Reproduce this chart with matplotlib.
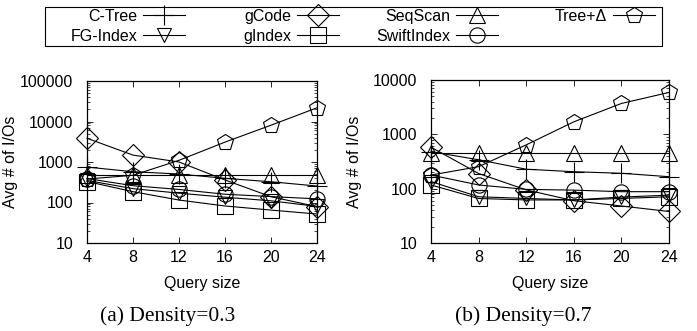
import numpy as np
import matplotlib
matplotlib.use('Agg')
import matplotlib.pyplot as plt
import matplotlib as mpl
from matplotlib.ticker import LogLocator, NullFormatter, FixedLocator
from matplotlib.patches import Rectangle

mpl.rcParams['font.family'] = ['Liberation Sans', 'DejaVu Sans']
mpl.rcParams['font.size'] = 11.5
mpl.rcParams['lines.linewidth'] = 0.8

query_sizes = [4, 8, 12, 16, 20, 24]
names = ['C-Tree', 'FG-Index', 'gCode', 'gIndex', 'SeqScan', 'SwiftIndex', 'Tree+\u0394']

# Density = 0.3
d03_ctree = [750, 575, 505, 395, 325, 255]
d03_fgindex = [350, 220, 170, 135, 110, 80]
d03_gcode = [3850, 1480, 1000, 360, 139, 79]
d03_gindex = [330, 185, 115, 82, 65, 52]
d03_seqscan = [470, 470, 470, 470, 470, 470]
d03_swift = [390, 260, 210, 160, 140, 123]
d03_tree = [380, 470, 1100, 3100, 8100, 21800]

# Density = 0.7
d07_ctree = [480, 340, 228, 205, 192, 166]
d07_fgindex = [135, 71, 66, 62, 70, 76]
d07_gcode = [580, 190, 95, 60, 48, 38]
d07_gindex = [117, 66, 62, 62, 66, 71]
d07_seqscan = [450, 450, 450, 450, 450, 450]
d07_swift = [178, 117, 97, 94, 88, 88]
d07_tree = [178, 254, 640, 1700, 3700, 5900]

markers = ['+', 'v', 'D', 's', '^', 'o', 'p']
msizes = [14, 10, 11, 11, 11, 11, 12]

W, H = 697, 331
fig = plt.figure(figsize=(6.97, 3.31), dpi=100)
ax1 = fig.add_axes([87 / W, 88 / H, 230 / W, 162 / H])
ax2 = fig.add_axes([431 / W, 88 / H, 238 / W, 163 / H])

panels = [
    (ax1, [d03_ctree, d03_fgindex, d03_gcode, d03_gindex, d03_seqscan, d03_swift, d03_tree], 100000),
    (ax2, [d07_ctree, d07_fgindex, d07_gcode, d07_gindex, d07_seqscan, d07_swift, d07_tree], 10000),
]

handles = []
for ax, series, ytop in panels:
    for k, vals in enumerate(series):
        ln, = ax.plot(query_sizes, vals, color='black', marker=markers[k], markersize=msizes[k],
                      mfc='none', mec='black', mew=0.8, linewidth=0.8, clip_on=False, label=names[k])
        if ax is ax1:
            handles.append(ln)
    ax.set_yscale('log')
    ax.set_xlim(4, 24)
    ax.set_ylim(10, ytop)
    ax.xaxis.set_major_locator(FixedLocator(query_sizes))
    ax.yaxis.set_major_locator(LogLocator(base=10, numticks=10))
    ax.yaxis.set_minor_locator(LogLocator(base=10, subs=np.arange(2, 10), numticks=10))
    ax.yaxis.set_minor_formatter(NullFormatter())
    ax.yaxis.set_major_formatter(mpl.ticker.FuncFormatter(lambda v, p: '%d' % round(v)))
    ax.tick_params(which='both', direction='in', top=True, right=True, labelsize=11.5)
    ax.tick_params(which='major', length=4, width=0.6)
    ax.tick_params(which='minor', length=2, width=0.5)
    ax.tick_params(axis='y', which='major', pad=10)
    ax.tick_params(axis='x', which='major', pad=5)
    ax.set_xlabel('Query size', fontsize=11.5, labelpad=8)
    ax.set_ylabel('Avg # of I/Os', fontsize=11.5)
    for sp in ax.spines.values():
        sp.set_linewidth(0.9)

ax1.yaxis.set_label_coords(-0.30, 0.5)
ax2.yaxis.set_label_coords(-0.29, 0.5)

# legend: gnuplot-like box, 4 columns, label then sample
fig.patches.append(Rectangle((45 / W, 1 - 46 / H), 617 / W, 39 / H, transform=fig.transFigure,
                             fill=False, edgecolor='black', linewidth=0.8))
col_right = [185, 339, 498, 655]
col_items = [[0, 1], [2, 3], [4, 5], [6]]
for xr, items in zip(col_right, col_items):
    lg = fig.legend(handles=[handles[i] for i in items], loc='upper right',
                    bbox_to_anchor=(xr / W, 1 - 9 / H), markerfirst=False, frameon=False,
                    fontsize=11.5, handlelength=2.6, labelspacing=0.3, borderpad=0,
                    borderaxespad=0, handletextpad=0.4)

fig.text(168 / W, 1 - 316 / H, '(a) Density=0.3', ha='center', va='center',
         fontsize=15.5, family=['Liberation Serif', 'DejaVu Serif'])
fig.text(523 / W, 1 - 316 / H, '(b) Density=0.7', ha='center', va='center',
         fontsize=15.5, family=['Liberation Serif', 'DejaVu Serif'])

fig.savefig('out.png', dpi=100)
